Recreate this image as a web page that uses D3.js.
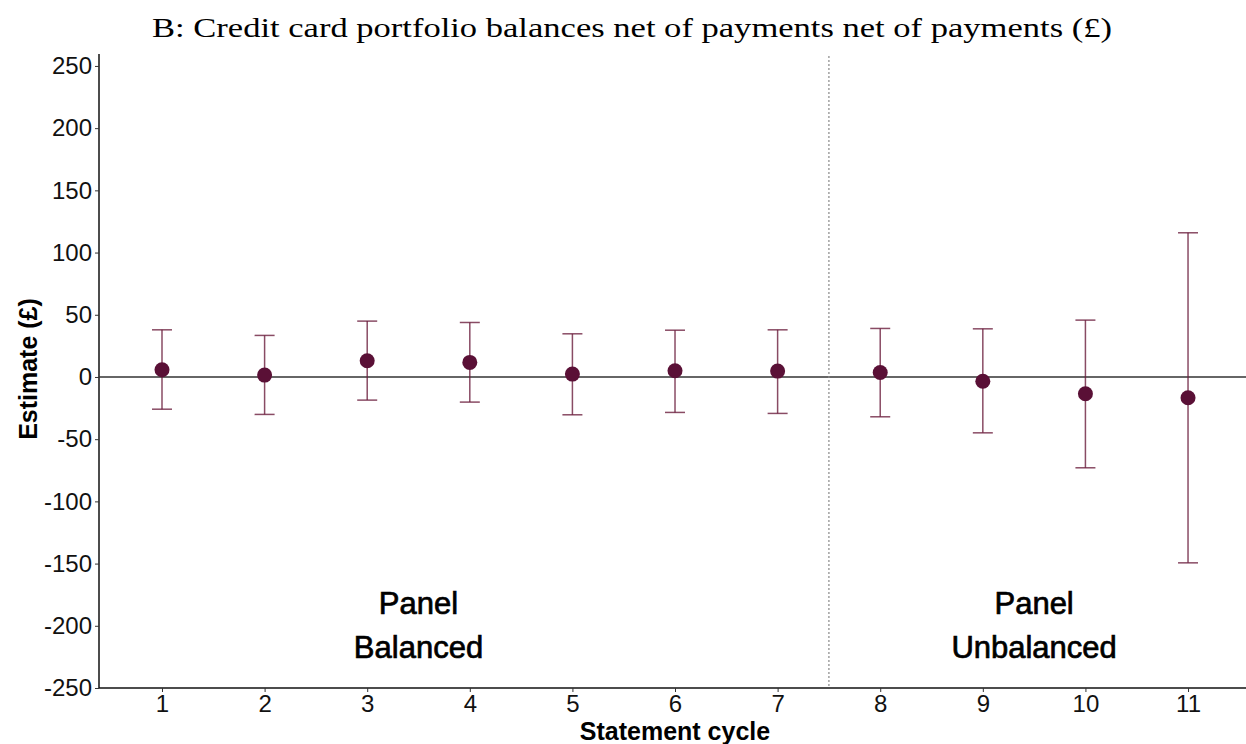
<!DOCTYPE html>
<html>
<head>
<meta charset="utf-8">
<script src="https://cdn.jsdelivr.net/npm/d3@7"></script>
<style>
  body { margin: 0; background: #fff; }
  svg { display: block; }
</style>
</head>
<body>
<div id="chart"></div>
<script>
// statement cycles and estimates
const cycles = [1, 2, 3, 4, 5, 6, 7, 8, 9, 10, 11]
const estimate = [5.8, 1.5, 13.0, 11.7, 2.3, 5.0, 4.7, 3.6, -3.4, -13.5, -16.7]
const upper = [37.9, 33.4, 44.9, 43.8, 34.7, 37.6, 37.9, 39.0, 38.7, 45.7, 115.9]
const lower = [-25.9, -30.1, -18.6, -20.2, -30.4, -28.5, -29.3, -32.0, -44.9, -73.0, -149.4]
const yTicks = [-250, -200, -150, -100, -50, 0, 50, 100, 150, 200, 250]
const panels = [
  { label: ['Panel', 'Balanced'], at: 3.5 },
  { label: ['Panel', 'Unbalanced'], at: 9.5 }
]
const breakAt = 7.5

const width = 1246, height = 744
const plotLeft = 99, plotRight = 1246, plotTop = 54, plotBottom = 688

const svg = d3.select('#chart').append('svg')
  .attr('width', width)
  .attr('height', height)

const x = d3.scaleLinear()
  .domain([0.386, 11.565])
  .range([plotLeft, plotRight])

const y = d3.scaleLinear()
  .domain([-250, 259.6])
  .range([plotBottom, plotTop])

const data = cycles.map((c, i) => ({ c, est: estimate[i], hi: upper[i], lo: lower[i] }))

const sans = '"Liberation Sans", Arial, sans-serif'

// title
svg.append('text')
  .attr('x', 632)
  .attr('y', 37)
  .attr('text-anchor', 'middle')
  .style('font-family', '"Liberation Serif", "DejaVu Serif", serif')
  .style('font-size', '27px')
  .attr('textLength', 960)
  .attr('lengthAdjust', 'spacingAndGlyphs')
  .text('B: Credit card portfolio balances net of payments net of payments (£)')

// axes (plain hyphen for negatives, like the original)
const yAxis = d3.axisLeft(y).tickValues(yTicks).tickSize(4).tickPadding(3)
  .tickFormat(d => String(d))
const y_axis_g = svg.append('g')
  .attr('transform', `translate(${plotLeft}, 0)`)
  .call(yAxis)
y_axis_g.select('.domain').attr('d', `M0,${plotTop}V${plotBottom}`)

const xAxis = d3.axisBottom(x).tickValues(cycles).tickSize(4).tickPadding(3)
const x_axis_g = svg.append('g')
  .attr('transform', `translate(0, ${plotBottom})`)
  .call(xAxis)
x_axis_g.select('.domain').attr('d', `M${plotLeft},0H${plotRight}`)

svg.selectAll('.tick text')
  .style('font-family', sans)
  .style('font-size', '24px')
  .attr('fill', '#111')
svg.selectAll('.tick line').attr('stroke', '#333')
svg.selectAll('.domain').attr('stroke', '#111').attr('stroke-width', 1.5)

// axis titles
svg.append('text')
  .attr('x', 675)
  .attr('y', 740)
  .attr('text-anchor', 'middle')
  .style('font-family', sans)
  .style('font-size', '25px')
  .style('font-weight', 'bold')
  .text('Statement cycle')

svg.append('text')
  .attr('transform', `translate(37, 369) rotate(-90)`)
  .attr('text-anchor', 'middle')
  .style('font-family', sans)
  .style('font-size', '25px')
  .style('font-weight', 'bold')
  .text('Estimate (£)')

// zero line and panel break
svg.append('line')
  .attr('x1', plotLeft).attr('x2', plotRight)
  .attr('y1', y(0)).attr('y2', y(0))
  .attr('stroke', '#333')
  .attr('stroke-width', 1.5)

svg.append('line')
  .attr('x1', x(breakAt)).attr('x2', x(breakAt))
  .attr('y1', plotTop + 2).attr('y2', plotBottom)
  .attr('stroke', '#888')
  .attr('stroke-width', 1.2)
  .attr('stroke-dasharray', '2,2')

// panel labels (slightly heavier than regular)
panels.forEach(p => {
  const t = svg.append('text')
    .attr('text-anchor', 'middle')
    .style('font-family', sans)
    .style('font-size', '31px')
    .attr('fill', '#000')
    .attr('stroke', '#000')
    .attr('stroke-width', 0.7)
  p.label.forEach((l, i) => {
    t.append('tspan')
      .attr('x', x(p.at))
      .attr('y', 614 + i * 44)
      .text(l)
  })
})

// error bars
const barColor = '#6b1e3d'
const cap = 10
const bars = svg.selectAll('.err')
  .data(data)
  .join('g')
  .attr('class', 'err')
  .attr('stroke', barColor)
  .attr('stroke-opacity', 0.8)
  .attr('stroke-width', 1.5)

bars.append('line')
  .attr('x1', d => x(d.c)).attr('x2', d => x(d.c))
  .attr('y1', d => y(d.hi)).attr('y2', d => y(d.lo))
bars.append('line')
  .attr('x1', d => x(d.c) - cap).attr('x2', d => x(d.c) + cap)
  .attr('y1', d => y(d.hi)).attr('y2', d => y(d.hi))
bars.append('line')
  .attr('x1', d => x(d.c) - cap).attr('x2', d => x(d.c) + cap)
  .attr('y1', d => y(d.lo)).attr('y2', d => y(d.lo))

// points
svg.selectAll('.pt')
  .data(data)
  .join('circle')
  .attr('class', 'pt')
  .attr('cx', d => x(d.c))
  .attr('cy', d => y(d.est))
  .attr('r', 7.5)
  .attr('fill', '#5a1036')
</script>
</body>
</html>
